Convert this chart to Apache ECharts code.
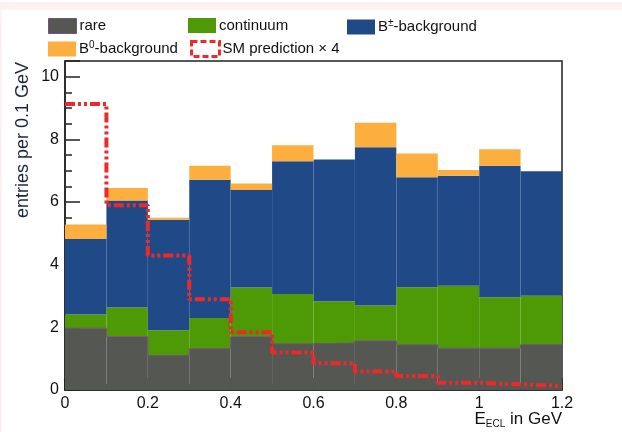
<!DOCTYPE html>
<html>
<head>
<meta charset="utf-8">
<script src="https://cdn.jsdelivr.net/npm/echarts@6/dist/echarts.min.js"></script>
<style>
html,body{margin:0;padding:0;background:#fff;}
#c{width:622px;height:432px;}
</style>
</head>
<body>
<div id="c"></div>
<script>
// bins of E_ECL (GeV), width 0.1
const binEdges = [0, 0.1, 0.2, 0.3, 0.4, 0.5, 0.6, 0.7, 0.8, 0.9, 1.0, 1.1, 1.2];
const categories = ['0.05','0.15','0.25','0.35','0.45','0.55','0.65','0.75','0.85','0.95','1.05','1.15'];
const rare      = [1.97, 1.70, 1.10, 1.32, 1.70, 1.47, 1.50, 1.57, 1.44, 1.33, 1.33, 1.45];
const continuum = [0.44, 0.93, 0.81, 0.98, 1.57, 1.59, 1.33, 1.13, 1.84, 2.00, 1.63, 1.56];
const bpmBkg    = [2.41, 3.42, 3.52, 4.41, 3.11, 4.24, 4.53, 5.05, 3.51, 3.51, 4.20, 3.97];
const b0Bkg     = [0.46, 0.40, 0.07, 0.45, 0.21, 0.51, 0.00, 0.78, 0.76, 0.18, 0.52, 0.00];
const smPred    = [9.13, 5.90, 4.29, 2.90, 1.84, 1.20, 0.85, 0.59, 0.45, 0.23, 0.18, 0.13];
const xTicks = [0, 0.2, 0.4, 0.6, 0.8, 1, 1.2];
const yTicks = [0, 2, 4, 6, 8, 10];

function stepData(vals) {
  const d = vals.map((v, i) => [binEdges[i], v]);
  d.push([binEdges[binEdges.length - 1], vals[vals.length - 1]]);
  return d;
}

const FONT = 'Liberation Sans, Arial, Helvetica, sans-serif';
const chart = echarts.init(document.getElementById('c'));

const legendBase = {
  orient: 'horizontal', itemWidth: 28, itemHeight: 15, itemGap: 4, padding: 0,
  selectedMode: false,
  textStyle: {
    fontFamily: FONT, fontSize: 15, color: '#111', padding: [0,0,0,-2],
    rich: {
      t: {fontFamily: FONT, fontSize: 15, color: '#111'},
      s: {fontFamily: FONT, fontSize: 10, color: '#111', verticalAlign: 'top', padding: [0,0,8,0]}
    }
  }
};
function lg(name, left, top, extra) {
  return Object.assign({}, legendBase, {left: left, top: top, data: [Object.assign({name: name, icon: 'rect'}, extra || {})]});
}

const option = {
  backgroundColor: '#fff',
  animation: false,
  graphic: [
    {type: 'rect', left: 0, top: 2, shape: {width: 622, height: 8}, style: {fill: '#fdf1f1'}, silent: true},
    {type: 'rect', left: 0, top: 10, shape: {width: 2, height: 422}, style: {fill: '#fdf1f1'}, silent: true}
  ],
  legend: [
    lg('rare', 48, 18, {itemStyle: {color: '#555753', borderColor: '#75507b', borderWidth: 1}}),
    lg('continuum', 188, 18, {itemStyle: {color: '#4e9a06'}}),
    lg('B±-background', 347, 18, {itemStyle: {color: '#204a87'}}),
    lg('B0-background', 48, 40, {itemStyle: {color: '#fcaf3e'}}),
    lg('SM prediction × 4', 190, 40, {itemStyle: {color: '#ffffff', borderColor: '#ef2929', borderWidth: 3, borderType: [6, 3]}})
  ],
  grid: {left: 65, right: 60, top: 61, bottom: 42, show: true, borderColor: '#222', borderWidth: 1.5,
         backgroundColor: '#fff', containLabel: false, outerBoundsMode: 'none'},
  xAxis: [
    {type: 'category', data: categories, show: false, boundaryGap: true},
    {
      type: 'value', min: 0, max: 1.2, interval: 0.2, position: 'bottom',
      axisLine: {show: true, lineStyle: {color: '#222', width: 1.5}},
      axisTick: {show: true, inside: true, length: 12, lineStyle: {color: '#222', width: 1.5}},
      minorTick: {show: true, splitNumber: 4, length: 6, lineStyle: {color: '#222', width: 1.5}},
      splitLine: {show: false},
      axisLabel: {fontFamily: FONT, fontSize: 16, color: '#111', margin: 6},
      name: '{e|E}{sub|ECL}{e| in GeV}',
      nameLocation: 'end', nameGap: 0, nameMoveOverlap: false,
      nameTextStyle: {
        align: 'right', verticalAlign: 'top', padding: [20, 0, 0, 0],
        rich: {
          e: {fontFamily: FONT, fontSize: 17, color: '#111'},
          sub: {fontFamily: FONT, fontSize: 10, color: '#111', verticalAlign: 'bottom', padding: [9, 0, 0, 0]}
        }
      }
    }
  ],
  yAxis: {
    type: 'value', min: 0, max: 10.5, interval: 2,
    axisLine: {show: true, lineStyle: {color: '#222', width: 1.5}},
    axisTick: {show: true, inside: true, length: 15, lineStyle: {color: '#222', width: 1.5}},
    minorTick: {show: true, splitNumber: 4, length: 7, lineStyle: {color: '#222', width: 1.5}},
    splitLine: {show: false},
    axisLabel: {fontFamily: FONT, fontSize: 16, color: '#111', margin: 6, showMaxLabel: false},
    name: 'entries per 0.1 GeV',
    nameLocation: 'end', nameGap: -1, nameRotate: 90, nameMoveOverlap: false,
    nameTextStyle: {fontFamily: FONT, fontSize: 18, color: '#1a2440', align: 'right', verticalAlign: 'bottom', padding: [0, 0, 33, 0]}
  },
  series: [
    {name: 'rare', type: 'bar', stack: 'bg', xAxisIndex: 0, data: rare, barCategoryGap: '0%', itemStyle: {color: '#555753'}},
    {name: 'continuum', type: 'bar', stack: 'bg', xAxisIndex: 0, data: continuum, itemStyle: {color: '#4e9a06'}},
    {name: 'B±-background', type: 'bar', stack: 'bg', xAxisIndex: 0, data: bpmBkg, itemStyle: {color: '#204a87'}},
    {name: 'B0-background', type: 'bar', stack: 'bg', xAxisIndex: 0, data: b0Bkg, itemStyle: {color: '#fcaf3e'}},
    {name: 'rare-outline', type: 'line', xAxisIndex: 1, step: 'end', data: stepData(rare), symbol: 'none',
     lineStyle: {color: '#75507b', width: 1}, silent: true, z: 3},
    {name: 'SM prediction × 4', type: 'line', xAxisIndex: 1, step: 'end', data: stepData(smPred), symbol: 'none',
     itemStyle: {color: '#ef2929'},
     lineStyle: {color: '#ef2929', width: 4, type: [10, 3, 3, 3, 3, 3]}, z: 4}
  ]
};
// legend text formatter with superscripts
option.legend.forEach(l => {
  l.formatter = function (n) {
    if (n === 'B±-background') return '{t|B}{s|±}{t|-background}';
    if (n === 'B0-background') return '{t|B}{s|0}{t|-background}';
    return '{t|' + n + '}';
  };
});
chart.setOption(option);
</script>
</body>
</html>
